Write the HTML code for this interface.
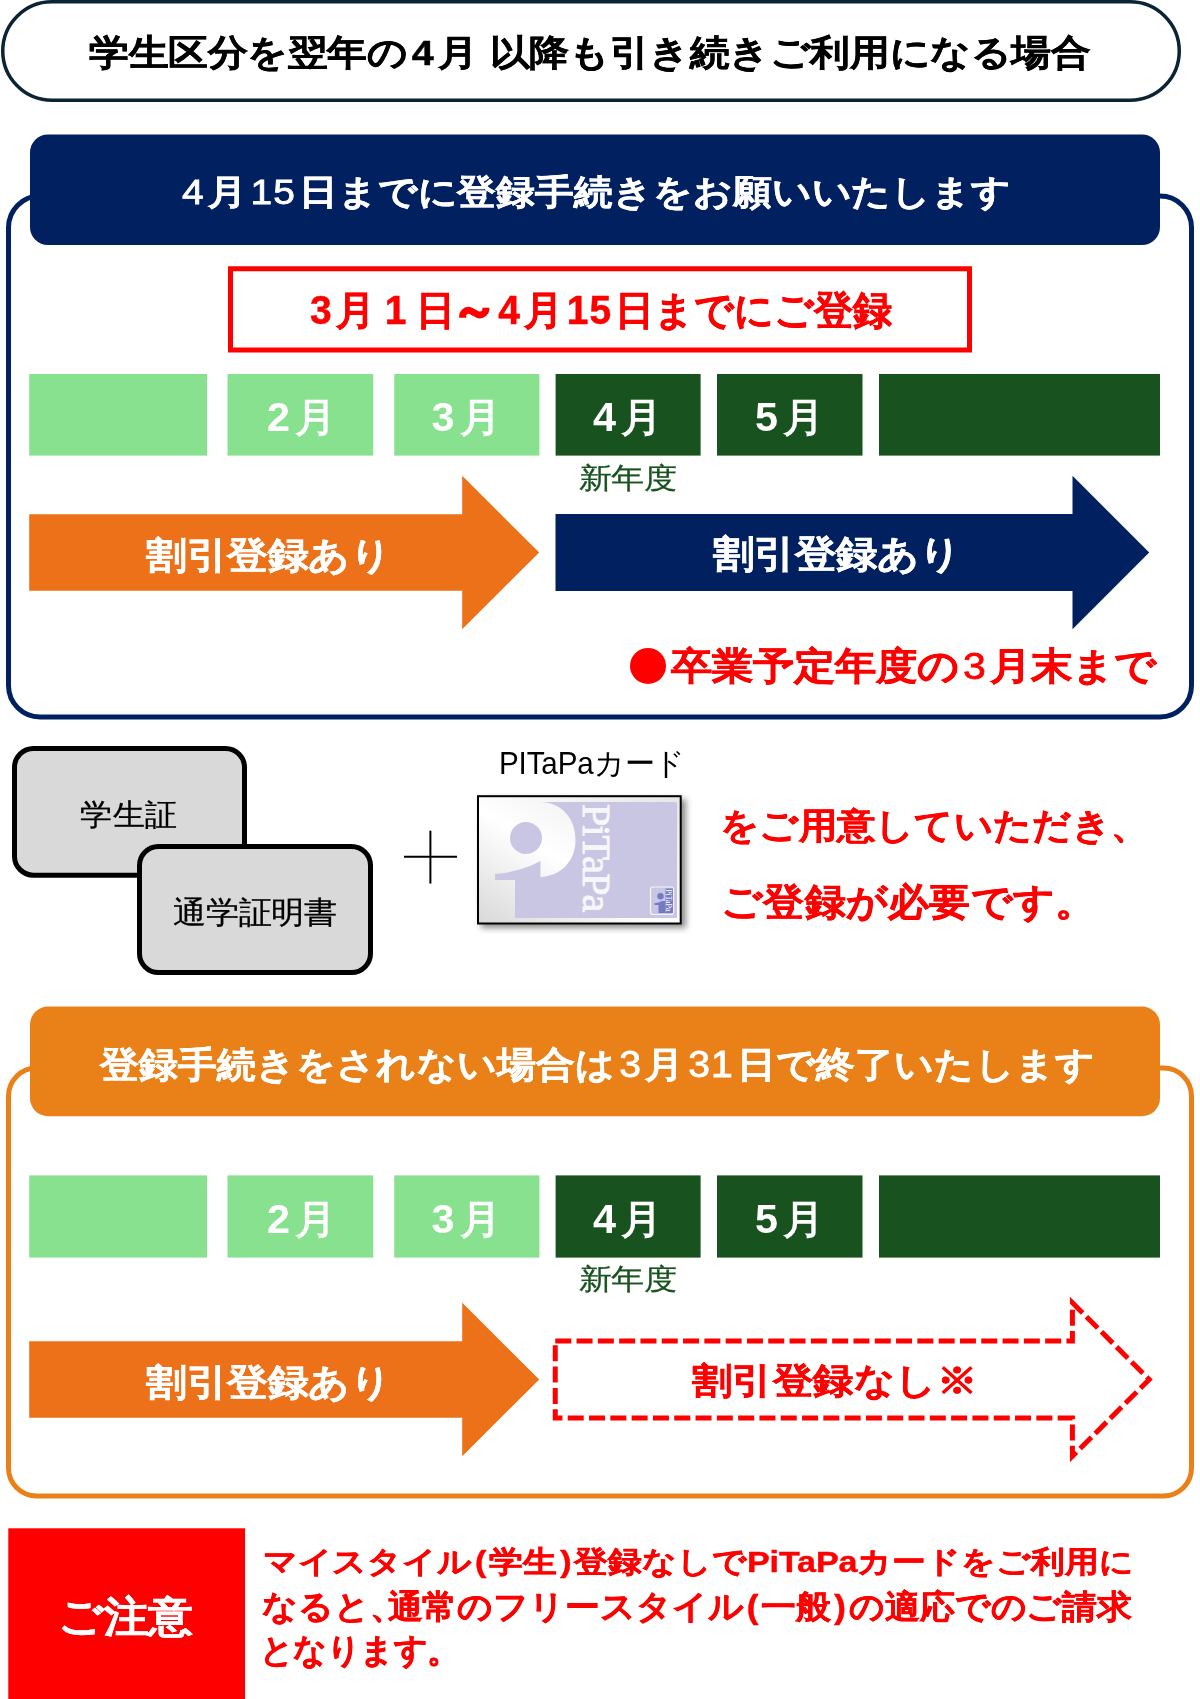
<!DOCTYPE html>
<html><head><meta charset="utf-8">
<style>
html,body{margin:0;padding:0;background:#fff;}
body{width:1200px;height:1699px;position:relative;overflow:hidden;font-family:"Liberation Sans",sans-serif;}
.t{position:absolute;white-space:nowrap;line-height:1;transform-origin:0 0;}
</style></head><body>
<svg width="1200" height="1699" viewBox="0 0 1200 1699" style="position:absolute;left:0;top:0">
<defs>
 <linearGradient id="cardg" x1="0" y1="1" x2="1" y2="0">
  <stop offset="0" stop-color="#d8d8d8"/><stop offset="0.45" stop-color="#ffffff"/><stop offset="1" stop-color="#e6e6e6"/>
 </linearGradient>
 <filter id="sh" x="-20%" y="-20%" width="140%" height="140%"><feGaussianBlur stdDeviation="3"/></filter>
</defs>
<rect x="2.75" y="1.75" width="1176.5" height="98.5" rx="49.25" fill="#fff" stroke="#0B2433" stroke-width="3.5"/>
<rect x="8.5" y="196" width="1183" height="521" rx="31.5" fill="#fff" stroke="#002060" stroke-width="5"/>
<rect x="30" y="134.4" width="1130" height="110.6" rx="18" fill="#002060"/>
<rect x="230.5" y="268.75" width="739" height="81.25" fill="none" stroke="#FF0000" stroke-width="5"/>
<rect x="29.2" y="374" width="177.8" height="81.60000000000002" fill="#87E18E"/><rect x="227.5" y="374" width="145.75" height="81.60000000000002" fill="#87E18E"/><rect x="394.25" y="374" width="145.14999999999998" height="81.60000000000002" fill="#87E18E"/><rect x="555.6" y="374" width="145.0" height="81.60000000000002" fill="#18521F"/><rect x="717" y="374" width="145.5" height="81.60000000000002" fill="#18521F"/><rect x="879" y="374" width="281" height="81.60000000000002" fill="#18521F"/>
<polygon fill="#EC7118" points="29.2,514.2 462.2,514.2 462.2,475.8 539.2,552.5 462.2,629.2 462.2,590.8 29.2,590.8"/>
<polygon fill="#002060" points="555.5,514.0 1072.5,514.0 1072.5,475.8 1149.2,552.5 1072.5,629.2 1072.5,591.0 555.5,591.0"/>
<rect x="14.5" y="748.5" width="230" height="126.7" rx="19" fill="#D9D9D9" stroke="#000" stroke-width="5"/>
<rect x="139.5" y="846.5" width="231" height="126" rx="19" fill="#D9D9D9" stroke="#000" stroke-width="5"/>
<line x1="404" y1="856.7" x2="457" y2="856.7" stroke="#000" stroke-width="2"/>
<line x1="430.4" y1="830.7" x2="430.4" y2="883.6" stroke="#000" stroke-width="2"/>
<rect x="8.5" y="1068" width="1183" height="428" rx="28" fill="#fff" stroke="#E98118" stroke-width="5"/>
<rect x="30" y="1006.6" width="1130" height="109.6" rx="18" fill="#E98118"/>
<rect x="29.2" y="1175.4" width="177.8" height="82.19999999999982" fill="#87E18E"/><rect x="227.5" y="1175.4" width="145.75" height="82.19999999999982" fill="#87E18E"/><rect x="394.25" y="1175.4" width="145.14999999999998" height="82.19999999999982" fill="#87E18E"/><rect x="555.6" y="1175.4" width="145.0" height="82.19999999999982" fill="#18521F"/><rect x="717" y="1175.4" width="145.5" height="82.19999999999982" fill="#18521F"/><rect x="879" y="1175.4" width="281" height="82.19999999999982" fill="#18521F"/>
<polygon fill="#EC7118" points="29.2,1341.2 462.2,1341.2 462.2,1302.8 539.2,1379.5 462.2,1456.2 462.2,1417.8 29.2,1417.8"/>
<polygon fill="none" stroke="#FF0000" stroke-width="5" stroke-dasharray="16 5.3" points="555.25,1341.0 1072.4,1341.0 1072.4,1302.8 1149.2,1379.5 1072.4,1456.2 1072.4,1418.0 555.25,1418.0"/>
<rect x="8.3" y="1528.3" width="236.7" height="180" fill="#FF0000"/>
<!-- PiTaPa card -->
<rect x="481" y="799" width="205" height="129" fill="#000" opacity="0.45" filter="url(#sh)"/>
<rect x="478" y="796.2" width="202.7" height="127.3" fill="url(#cardg)" stroke="#000" stroke-width="2"/>
<path fill="#C9C6E4" d="M540,802 H675 Q677,802 677,804 V918 H515 V880 H495 V874 Q520,872 540.5,861 V877 C560,876 575.5,862 575.5,840 C575.5,817 560,802 540,802 Z"/>
<circle cx="526" cy="838" r="16" fill="#C9C6E4"/>
<text transform="translate(582.5,804) rotate(90)" font-family="Liberation Serif" font-size="40" letter-spacing="-0.9" fill="#F7F7FA" stroke="#F7F7FA" stroke-width="0.9">PiTaPa</text>
<rect x="650.5" y="887" width="23" height="27.5" rx="2.5" fill="#C9C6E4" stroke="#F4F4F8" stroke-width="1.2"/>
<rect x="665.5" y="888.5" width="7.5" height="24.5" fill="#7579C2"/>
<path fill="#7579C2" d="M654.5,903.2 Q659,903 662,901 H665.5 V913 H658.5 V905 H654.5 Z"/>
<circle cx="660.5" cy="896.2" r="3.2" fill="#7579C2"/>
<text transform="translate(666.3,889) rotate(90)" font-family="Liberation Serif" font-size="8.5" letter-spacing="-0.3" fill="#fff">PiTaPa</text>
<circle cx="648" cy="665.9" r="18" fill="#FF0000"/>
</svg>
<div class="t" style="left:89.0px;top:34.9px;font-size:39.6px;letter-spacing:-0.42px;font-weight:bold;color:#000;transform:scaleY(0.9048);-webkit-text-stroke:0.5px #000;">学生区分を翌年の<span style="margin:0 5px 0 4px">4</span>月<span style="margin-left:12px"></span>以降も引き続きご利用になる場合</div>
<div class="t" style="left:178.0px;top:174.81px;font-size:38.92px;letter-spacing:-0.1px;font-weight:bold;color:#fff;transform:scaleY(0.9048);-webkit-text-stroke:0.5px #fff;"><span style="font-weight:normal;-webkit-text-stroke:0.9px currentColor;letter-spacing:1px;margin:0 3px 0 4px;">4</span>月<span style="font-weight:normal;-webkit-text-stroke:0.9px currentColor;letter-spacing:1px;margin:0 3px 0 4px;">15</span>日までに登録手続きをお願いいたします</div>
<div class="t" style="left:306.0px;top:289.97px;font-size:38.99px;letter-spacing:-0.07px;font-weight:bold;color:#FF0000;transform:scaleY(1.0256);-webkit-text-stroke:0.5px #FF0000;"><span style="font-weight:bold;letter-spacing:1px;margin:0 3px 0 4px;">3</span>月<span style="font-weight:bold;letter-spacing:1px;margin:0 3px 0 4px;margin:0 9px 0 10px">1</span>日<span style="-webkit-text-stroke:2.2px currentColor;display:inline-block;transform:scale(1.15,1.1)">～</span><span style="font-weight:bold;letter-spacing:1px;margin:0 3px 0 4px;">4</span>月<span style="font-weight:bold;letter-spacing:1px;margin:0 3px 0 4px;">15</span>日までにご登録</div>
<div class="t" style="left:267px;top:398.05px;font-size:41.38px;letter-spacing:0.0px;font-weight:bold;color:#fff;transform:scaleY(0.9737)">2<span style="margin-left:5px">月</span></div>
<div class="t" style="left:431.5px;top:398.05px;font-size:41.38px;letter-spacing:0.0px;font-weight:bold;color:#fff;transform:scaleY(0.9737)">3<span style="margin-left:5px">月</span></div>
<div class="t" style="left:593px;top:398.05px;font-size:41.38px;letter-spacing:0.0px;font-weight:bold;color:#fff;transform:scaleY(0.9737)">4<span style="margin-left:5px">月</span></div>
<div class="t" style="left:755px;top:398.05px;font-size:41.38px;letter-spacing:0.0px;font-weight:bold;color:#fff;transform:scaleY(0.9737)">5<span style="margin-left:5px">月</span></div>
<div class="t" style="left:579.0px;top:463.88px;font-size:32.68px;letter-spacing:-0.7px;color:#18521F;transform:scaleY(0.875);-webkit-text-stroke:0.3px #18521F">新年度</div>
<div class="t" style="left:267px;top:1199.55px;font-size:41.38px;letter-spacing:0.0px;font-weight:bold;color:#fff;transform:scaleY(0.9737)">2<span style="margin-left:5px">月</span></div>
<div class="t" style="left:431.5px;top:1199.55px;font-size:41.38px;letter-spacing:0.0px;font-weight:bold;color:#fff;transform:scaleY(0.9737)">3<span style="margin-left:5px">月</span></div>
<div class="t" style="left:593px;top:1199.55px;font-size:41.38px;letter-spacing:0.0px;font-weight:bold;color:#fff;transform:scaleY(0.9737)">4<span style="margin-left:5px">月</span></div>
<div class="t" style="left:755px;top:1199.55px;font-size:41.38px;letter-spacing:0.0px;font-weight:bold;color:#fff;transform:scaleY(0.9737)">5<span style="margin-left:5px">月</span></div>
<div class="t" style="left:579.0px;top:1265.38px;font-size:32.68px;letter-spacing:-0.7px;color:#18521F;transform:scaleY(0.875);-webkit-text-stroke:0.3px #18521F">新年度</div>
<div class="t" style="left:146.0px;top:536.91px;font-size:40.69px;letter-spacing:-0.4px;font-weight:bold;color:#fff;transform:scaleY(0.907);-webkit-text-stroke:0.5px #fff;">割引登録あり</div>
<div class="t" style="left:146.0px;top:1363.9099999999999px;font-size:40.69px;letter-spacing:-0.4px;font-weight:bold;color:#fff;transform:scaleY(0.907);-webkit-text-stroke:0.5px #fff">割引登録あり</div>
<div class="t" style="left:713.0px;top:536.42px;font-size:41.03px;letter-spacing:0.0px;font-weight:bold;color:#fff;transform:scaleY(0.9186);-webkit-text-stroke:0.5px #fff;">割引登録あり</div>
<div class="t" style="left:671.0px;top:647.84px;font-size:41.01px;letter-spacing:0.0px;font-weight:bold;color:#FF0000;transform:scaleY(0.9186);-webkit-text-stroke:0.5px #FF0000;">卒業予定年度の<span style="font-weight:normal;-webkit-text-stroke:0.9px currentColor;letter-spacing:1px;margin:0 3px 0 4px;">3</span>月末まで</div>
<div class="t" style="left:80.0px;top:800.0px;font-size:32.54px;letter-spacing:-0.5px;font-weight:normal;color:#000;transform:scaleY(0.9355);-webkit-text-stroke:0.3px #000;">学生証</div>
<div class="t" style="left:173.0px;top:898.0px;font-size:32.73px;letter-spacing:-0.25px;font-weight:normal;color:#000;transform:scaleY(0.9355);-webkit-text-stroke:0.3px #000;">通学証明書</div>
<div class="t" style="left:499.0px;top:748.41px;font-size:29.59px;letter-spacing:-0.12px;font-weight:normal;color:#000;transform:scaleY(1.0308);-webkit-text-stroke:0px #000;">PITaPaカード</div>
<div class="t" style="left:720.0px;top:807.94px;font-size:38.28px;letter-spacing:0.3px;font-weight:bold;color:#FF0000;transform:scaleY(0.939);-webkit-text-stroke:0.5px #FF0000;">をご用意していただき、</div>
<div class="t" style="left:721.0px;top:882.93px;font-size:41.07px;letter-spacing:0.25px;font-weight:bold;color:#FF0000;transform:scaleY(0.9302);-webkit-text-stroke:0.5px #FF0000;">ご登録が必要です。</div>
<div class="t" style="left:99.5px;top:1045.93px;font-size:39.15px;letter-spacing:0.14px;font-weight:bold;color:#fff;transform:scaleY(0.9286);-webkit-text-stroke:0.5px #fff;">登録手続きをされない場合は<span style="font-weight:normal;-webkit-text-stroke:0.9px currentColor;letter-spacing:1px;margin:0 3px 0 4px;">3</span>月<span style="font-weight:normal;-webkit-text-stroke:0.9px currentColor;letter-spacing:1px;margin:0 3px 0 4px;">31</span>日で終了いたします</div>
<div class="t" style="left:692.0px;top:1363.4px;font-size:40.51px;letter-spacing:-0.58px;font-weight:bold;color:#FF0000;transform:scaleY(0.8953);-webkit-text-stroke:0.5px #FF0000;">割引登録なし※</div>
<div class="t" style="left:58.0px;top:1595.88px;font-size:44.51px;letter-spacing:-0.35px;font-weight:bold;color:#fff;transform:scaleY(0.9413);-webkit-text-stroke:0.5px #fff;">ご注意</div>
<div class="t" style="left:262.7px;top:1546.0px;font-size:34.07px;letter-spacing:-0.1px;font-weight:bold;color:#FF0000;transform:scaleY(0.8889);-webkit-text-stroke:0.5px #FF0000;">マイスタイル<span style="margin:0 3px">(</span>学生<span style="margin:0 3px">)</span>登録なしでPiTaPaカードをご利用に</div>
<div class="t" style="left:261.8px;top:1590.89px;font-size:34.94px;letter-spacing:-0.07px;font-weight:bold;color:#FF0000;transform:scaleY(0.9474);-webkit-text-stroke:0.5px #FF0000;">なると<span style="margin-right:-17px">、</span>通常のフリースタイル<span style="margin:0 3px">(</span>一般<span style="margin:0 3px">)</span>の適応でのご請求</div>
<div class="t" style="left:259.7px;top:1633.97px;font-size:32.73px;letter-spacing:-0.54px;font-weight:bold;color:#FF0000;transform:scaleY(1.0303);-webkit-text-stroke:0.5px #FF0000;">となります。</div>
</body></html>
